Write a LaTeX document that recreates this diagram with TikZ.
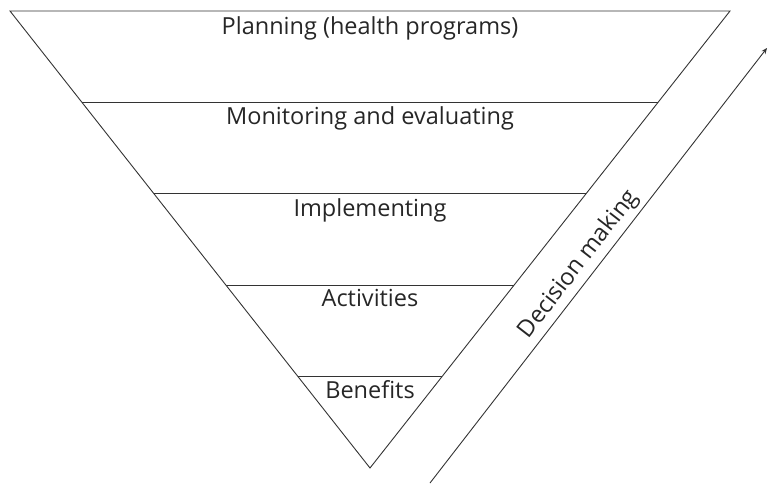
\documentclass[tikz,border=0pt]{standalone}
\usepackage{fontspec}
\setmainfont{Open Sans}
\usetikzlibrary{arrows.meta,positioning,calc}

\begin{document}
\begin{tikzpicture}[x=1pt,y=-1pt,>={Stealth[length=6pt,width=5pt]},
 every node/.style={font=\fontsize{23.5}{26}\selectfont,text=black!85},
 edge/.style={draw=black!80,line width=0.9pt},
 level/.style={anchor=north,inner sep=0pt}]
\useasboundingbox (0,0) rectangle (769,483);
\coordinate (tl) at (10,11);
\coordinate (tr) at (730,11);
\coordinate (apex) at (370,468);
\draw[edge,line join=miter] (tl) -- (tr) -- (apex) -- cycle;
\foreach \t in {0.2,0.4,0.6,0.8}
 \draw[edge] ($(tl)!\t!(apex)$) -- ($(tr)!\t!(apex)$);
% labels of the levels
\node[level] (plan) at (370,16) {Planning (health programs)};
\node[level] (monitor) at (370,106) {Monitoring and evaluating};
\node[level] (implement) at (370,198) {Implementing};
\node[level] (activity) at (370,289) {Activities};
\node[level] (benefit) at (370,380) {Benefits};
% decision arrow
\coordinate (dstart) at (430,483);
\coordinate (dend) at (767,48);
\draw[edge,->] (dstart) -- node[pos=.48,sloped,above=4pt,inner sep=0pt] (decide) {Decision making} (dend);
\end{tikzpicture}
\end{document}
